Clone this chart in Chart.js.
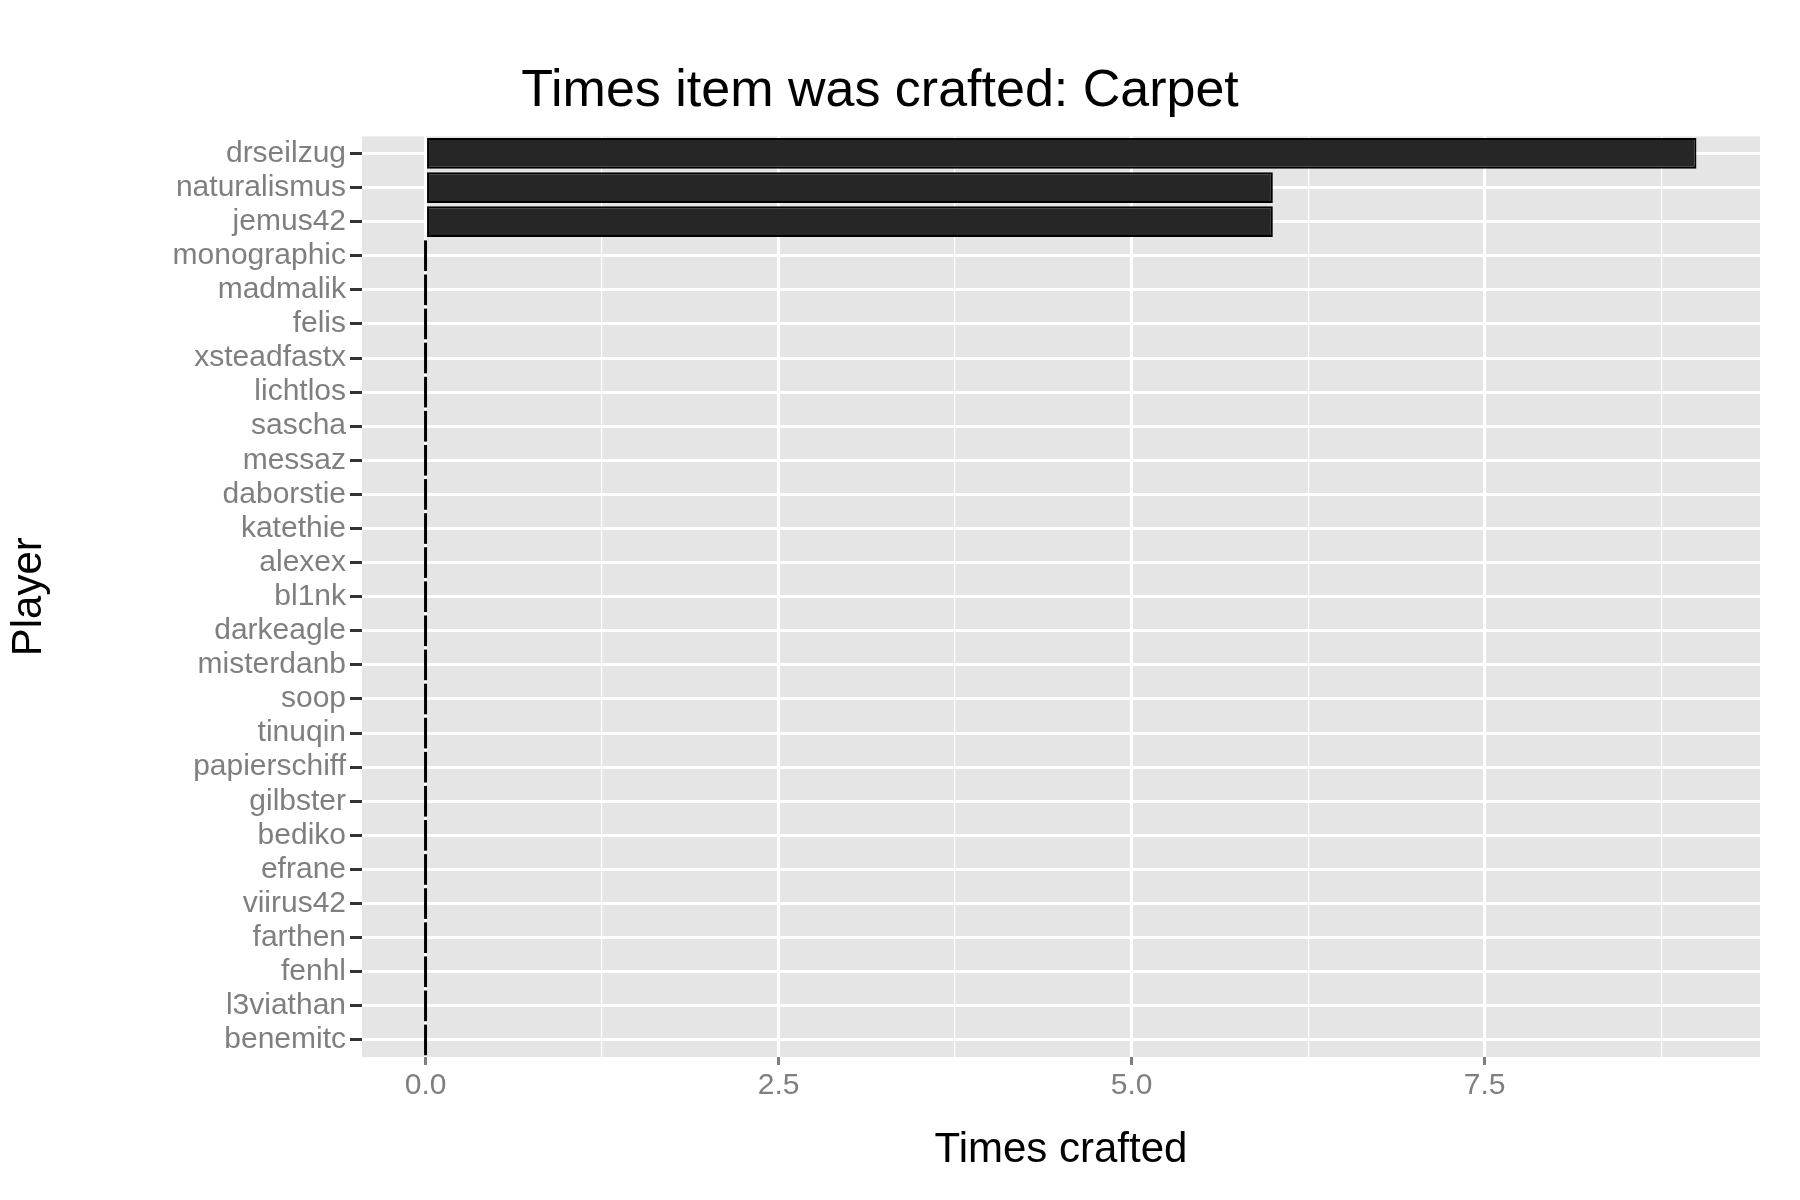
<!DOCTYPE html>
<html>
<head>
<meta charset="utf-8">
<script src="https://cdn.jsdelivr.net/npm/chart.js@4"></script>
<style>
  body { margin: 0; background: #fff; }
</style>
</head>
<body>
<canvas id="c" width="1800" height="1200"></canvas>
<script>
const players = ['drseilzug', 'naturalismus', 'jemus42', 'monographic', 'madmalik', 'felis',
  'xsteadfastx', 'lichtlos', 'sascha', 'messaz', 'daborstie', 'katethie', 'alexex', 'bl1nk',
  'darkeagle', 'misterdanb', 'soop', 'tinuqin', 'papierschiff', 'gilbster', 'bediko', 'efrane',
  'viirus42', 'farthen', 'fenhl', 'l3viathan', 'benemitc'];
const timesCrafted = [9, 6, 6, 0, 0, 0, 0, 0, 0, 0, 0, 0, 0, 0, 0, 0, 0, 0, 0, 0, 0, 0, 0, 0, 0, 0, 0];
const majorTicks = [0, 2.5, 5, 7.5];

// grey panel behind the plot
const panelBg = {
  id: 'panelBg',
  beforeDraw(chart) {
    const { ctx, chartArea: a } = chart;
    ctx.save();
    ctx.fillStyle = '#e5e5e5';
    ctx.fillRect(a.left, a.top, a.right - a.left, a.bottom - a.top);
    ctx.restore();
  }
};

// zero-length bars still show their outline in the original
const zeroBars = {
  id: 'zeroBars',
  afterDatasetsDraw(chart) {
    const { ctx } = chart;
    const meta = chart.getDatasetMeta(0);
    const x0 = chart.scales.x.getPixelForValue(0);
    ctx.save();
    ctx.strokeStyle = '#000';
    ctx.lineWidth = 3;
    meta.data.forEach((bar, i) => {
      if (timesCrafted[i] !== 0) return;
      const h = bar.height / 2;
      ctx.beginPath();
      ctx.moveTo(x0, bar.y - h);
      ctx.lineTo(x0, bar.y + h);
      ctx.stroke();
    });
    ctx.restore();
  }
};

new Chart(document.getElementById('c'), {
  type: 'bar',
  data: {
    labels: players,
    datasets: [{
      data: timesCrafted,
      backgroundColor: '#262626',
      borderColor: '#000',
      borderWidth: 2,
      borderSkipped: false,
      categoryPercentage: 0.9,
      barPercentage: 1
    }]
  },
  plugins: [panelBg, zeroBars],
  options: {
    indexAxis: 'y',
    responsive: false,
    animation: false,
    devicePixelRatio: 1,
    layout: { padding: { right: 40, bottom: 20 } },
    plugins: {
      legend: { display: false },
      tooltip: { enabled: false },
      title: {
        display: true,
        text: 'Times item was crafted: Carpet',
        color: '#000',
        font: { family: 'Liberation Sans', size: 52, weight: 'normal' },
        padding: { top: 60, bottom: 14 }
      }
    },
    scales: {
      x: {
        type: 'linear',
        min: -0.45,
        max: 9.45,
        afterBuildTicks(s) {
          const t = [];
          for (let v = 0; v <= 9.45; v += 1.25) t.push({ value: v });
          s.ticks = t;
        },
        afterFit(s) { s.height = 123; },
        border: { display: false },
        grid: {
          color: '#fff',
          lineWidth: c => majorTicks.includes(c.tick.value) ? 3 : 1.2,
          tickColor: c => majorTicks.includes(c.tick.value) ? '#7f7f7f' : 'rgba(0,0,0,0)',
          tickLength: 8
        },
        ticks: {
          color: '#7f7f7f',
          font: { family: 'Liberation Sans', size: 30 },
          callback: v => majorTicks.includes(v) ? v.toFixed(1) : '',
          maxRotation: 0,
          autoSkip: false
        },
        title: {
          display: true,
          text: 'Times crafted',
          color: '#000',
          font: { family: 'Liberation Sans', size: 42 },
          padding: { top: 0 }
        }
      },
      y: {
        offset: true,
        afterFit(s) { s.width = 362; },
        border: { display: false },
        grid: { color: '#fff', lineWidth: 3, offset: false, tickColor: '#333', tickLength: 12 },
        ticks: {
          color: '#7f7f7f',
          font: { family: 'Liberation Sans', size: 30 },
          autoSkip: false,
          padding: 4
        },
        title: {
          display: true,
          text: 'Player',
          color: '#000',
          font: { family: 'Liberation Sans', size: 42 }
        }
      }
    }
  }
});
</script>
</body>
</html>
